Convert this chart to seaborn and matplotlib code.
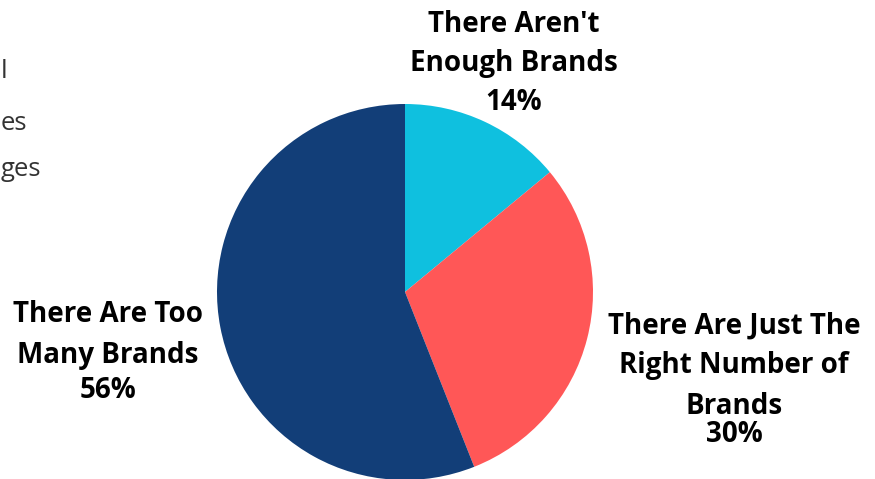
import matplotlib
matplotlib.use("Agg")
import matplotlib.pyplot as plt
import seaborn as sns

categories = ["There Aren't\nEnough Brands", "There Are Just The\nRight Number of\nBrands", "There Are Too\nMany Brands"]
values = [14, 30, 56]
colors = ["#0FC0DF", "#FF5757", "#123E78"]
side_text = ["l", "es", "ges"]

sns.set_theme(style="white")
plt.rcParams['font.family'] = ['Open Sans', 'DejaVu Sans']

fig = plt.figure(figsize=(8.75, 4.79), dpi=100)
W, H = 875, 479
cx, cy, r = 405, 292, 188
ax = fig.add_axes([(cx - r) / W, (H - cy - r) / H, 2 * r / W, 2 * r / H])
ax.pie(values, colors=colors, startangle=90, counterclock=False, radius=1,
       wedgeprops=dict(linewidth=0))
ax.set_xlim(-1, 1)
ax.set_ylim(-1, 1)
ax.set_aspect('equal')
ax.axis('off')

def ftext(x, y, s, **kw):
    fig.text(x / W, 1 - y / H, s, **kw)

lab = dict(fontsize=20, fontweight='bold', color='black', ha='center', va='center',
           linespacing=1.5)
ftext(514, 44, categories[0], **lab)
ftext(514, 102, f"{values[0]}%", **lab)
ftext(734, 366, categories[1], **lab)
ftext(734, 435, f"{values[1]}%", **lab)
ftext(108, 335, categories[2], **lab)
ftext(108, 390, f"{values[2]}%", **lab)

side = dict(fontsize=18.5, color='#333333', ha='left', va='center')
ftext(1, 72, side_text[0], **side)
ftext(1, 123, side_text[1], **side)
ftext(1, 170, side_text[2], **side)

fig.savefig("out.png", dpi=100)
